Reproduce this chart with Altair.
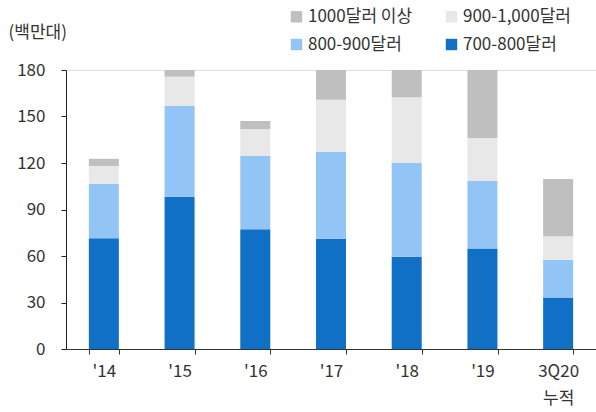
import altair as alt
import pandas as pd

categories = ["'14", "'15", "'16", "'17", "'18", "'19", "3Q20|누적"]
legend_order = ["1000달러 이상", "800-900달러", "900-1,000달러", "700-800달러"]
colors = ["#BFBFBF", "#92C5F5", "#E8E8E8", "#1070C6"]

v700_800 = [71.5, 98.3, 77.3, 71.1, 59.5, 64.8, 33.2]
v800_900 = [35.0, 58.5, 47.2, 56.0, 60.5, 43.6, 24.3]
v900_1000 = [11.6, 18.9, 17.4, 33.7, 42.4, 27.7, 15.3]
v1000_plus = [4.6, 5.0, 5.2, 22.0, 20.0, 48.0, 36.9]

values_by_series = {
    "700-800달러": v700_800,
    "800-900달러": v800_900,
    "900-1,000달러": v900_1000,
    "1000달러 이상": v1000_plus,
}
stack_order = {"700-800달러": 0, "800-900달러": 1, "900-1,000달러": 2, "1000달러 이상": 3}

rows = []
for s, vals in values_by_series.items():
    for c, v in zip(categories, vals):
        rows.append({"cat": c, "series": s, "value": v, "ord": stack_order[s]})
df = pd.DataFrame(rows)

FONT = "Noto Sans CJK KR"

chart = alt.Chart(df).mark_bar(size=30, clip=True).encode(
    x=alt.X("cat:N", sort=categories, scale=alt.Scale(paddingInner=0.6, paddingOuter=0.3),
            axis=alt.Axis(title=None, labelAngle=0, labelFontSize=17, labelColor="#333333",
                          labelPadding=9, tickSize=5, tickColor="#333333", domainColor="#333333",
                          tickBand="extent", labelLineHeight=27,
                          labelExpr="split(datum.label, '|')")),
    y=alt.Y("value:Q", stack="zero", scale=alt.Scale(domain=[0, 180], nice=False),
            axis=alt.Axis(values=[0, 30, 60, 90, 120, 150, 180], grid=False, tickSize=5,
                          tickColor="#222222", domainColor="#222222", labelFontSize=17,
                          labelColor="#333333", labelPadding=16,
                          title="(백만대)", titleAngle=0, titleFontSize=17, titleFontWeight="normal",
                          titleColor="#333333", titleX=-58, titleY=-38, titleAlign="left",
                          titleBaseline="middle")),
    color=alt.Color("series:N", sort=legend_order,
                    scale=alt.Scale(domain=legend_order, range=colors),
                    legend=alt.Legend(title=None, orient="none", legendX=222, legendY=-62,
                                      columns=2, columnPadding=30, rowPadding=10,
                                      symbolType="square", symbolSize=130, symbolStrokeWidth=0,
                                      labelFontSize=17, labelColor="#333333", labelOffset=3)),
    order=alt.Order("ord:Q", sort="ascending"),
).properties(
    width=530, height=279,
    autosize=alt.AutoSizeParams(type="none"),
    padding={"left": 66, "top": 70, "right": 0, "bottom": 63},
).configure_view(stroke=None).configure(font=FONT)

chart.save("out.html", embed_options={"renderer": "svg", "actions": False})
